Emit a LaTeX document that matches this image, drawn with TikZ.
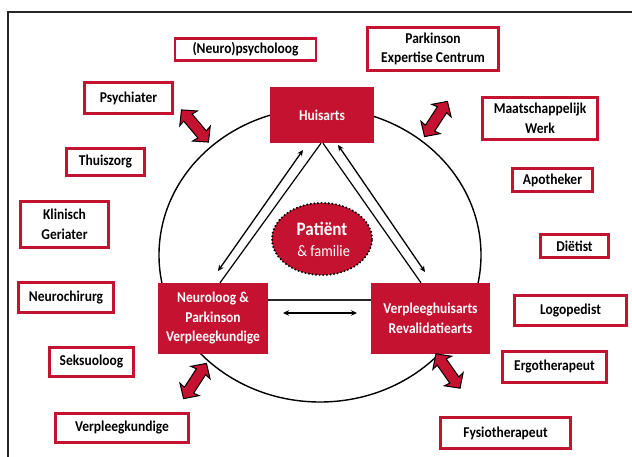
\documentclass[tikz,border=0pt]{standalone}
\usepackage{fontspec}
\setmainfont{Carlito}[FakeStretch=0.9]
\usetikzlibrary{shapes.geometric,arrows.meta}
\definecolor{pred}{RGB}{196,18,48}
\begin{document}
\begin{tikzpicture}[x=1pt,y=-1pt,
  box/.style={draw=pred, line width=2.6pt, fill=white, text=black,
    font=\fontsize{15}{19.5}\selectfont\bfseries, align=center, inner sep=0pt},
  core/.style={fill=pred, draw=none, text=white,
    font=\fontsize{15}{19.5}\selectfont\bfseries, align=center, inner sep=0pt},
  tri/.style={line width=1.2pt, black},
  dbl/.style={line width=1.3pt, black, {Stealth[length=6pt,width=5.5pt]}-{Stealth[length=6pt,width=5.5pt]}},
  bidir/.pic={\draw[fill=pred, draw=black, line width=1pt, line join=miter]
     (-21,0) -- (-10,-11.5) -- (-11,-5.5) -- (11,-5.5) -- (10,-11.5) -- (21,0)
     -- (10,11.5) -- (11,5.5) -- (-11,5.5) -- (-10,11.5) -- cycle;}
]
\useasboundingbox (0,0) rectangle (632,457);
\fill[white] (0,0) rectangle (632,457);
% frame
\draw[line width=1.2pt, black!85] (8,457) -- (8,12) -- (632,12);
% big circle
\draw[line width=1.4pt] (320,255) ellipse [x radius=161, y radius=147];

% outer boxes
\node[box, minimum width=141pt, minimum height=22pt] (npsy) at (245.5,49.5) {(Neuro)psycholoog};
\node[box, minimum width=131pt, minimum height=43pt] (pec) at (433,49) {Parkinson\\Expertise Centrum};
\node[box, minimum width=88pt, minimum height=31pt] (psych) at (128.5,98) {Psychiater};
\node[box, minimum width=115pt, minimum height=42pt] (maat) at (540,118.5) {Maatschappelijk\\Werk};
\node[box, minimum width=78pt, minimum height=27pt] (thuis) at (105.5,162) {Thuiszorg};
\node[box, minimum width=80pt, minimum height=23pt] (apo) at (552.5,180) {Apotheker};
\node[box, minimum width=88pt, minimum height=46pt] (klin) at (64.5,224.5) {Klinisch\\Geriater};
\node[box, minimum width=68pt, minimum height=23pt] (diet) at (574.5,246) {Diëtist};
\node[box, minimum width=95pt, minimum height=30pt] (nchir) at (66,297.5) {Neurochirurg};
\node[box, minimum width=112pt, minimum height=30pt] (logo) at (570.5,310.5) {Logopedist};
\node[box, minimum width=84pt, minimum height=29pt] (seks) at (91.5,362) {Seksuoloog};
\node[box, minimum width=104pt, minimum height=31pt] (ergo) at (554.5,367) {Ergotherapeut};
\node[box, minimum width=133pt, minimum height=29pt] (vpk) at (122,428) {Verpleegkundige};
\node[box, minimum width=130pt, minimum height=31pt] (fysio) at (505.5,433) {Fysiotherapeut};

% core boxes
\node[core, minimum width=104pt, minimum height=56pt] (huis) at (322,115) {Huisarts};
\node[core, minimum width=110pt, minimum height=71pt] (neuro) at (213,318.5) {Neuroloog \&\\Parkinson\\Verpleegkundige};
\node[core, minimum width=119pt, minimum height=71pt] (verpl) at (430.5,318.5) {Verpleeghuisarts\\Revalidatiearts};

% patient
\node[ellipse, fill=pred, draw=black, line width=2.3pt, dash pattern=on 0pt off 3.6pt,
  line cap=round, minimum width=100pt, minimum height=72pt, inner sep=0pt,
  text=white, align=center, font=\fontsize{16}{21}\selectfont] (pat) at (322,239)
  {{\fontsize{19}{21}\selectfont\bfseries Patiënt}\\{\fontsize{16}{21}\selectfont\ \& familie}};

% triangle
\draw[tri] ([xshift=-1pt]huis.south) -- ([xshift=7pt]neuro.north);
\draw[tri] ([xshift=1pt]huis.south) -- ([xshift=-9.5pt]verpl.north);
\draw[line width=1.6pt, black!85] ([yshift=18.5pt]neuro.east) -- ([yshift=18.5pt]verpl.west);

% thin double arrows
\coordinate (la) at (303,150);
\coordinate (lb) at (218,271);
\coordinate (ra) at (338,145);
\coordinate (rb) at (425,272);
\coordinate (ha) at (283,313);
\coordinate (hb) at (357,313);
\draw[dbl] (la) -- (lb);
\draw[dbl] (ra) -- (rb);
\draw[dbl] (ha) -- (hb);

% block arrows
\pic[rotate=-50] at (195,126) {bidir};
\pic[rotate=57] at (436,119) {bidir};
\pic[rotate=57] at (195,381) {bidir};
\pic[rotate=-55] at (448,371) {bidir};
\end{tikzpicture}
\end{document}
